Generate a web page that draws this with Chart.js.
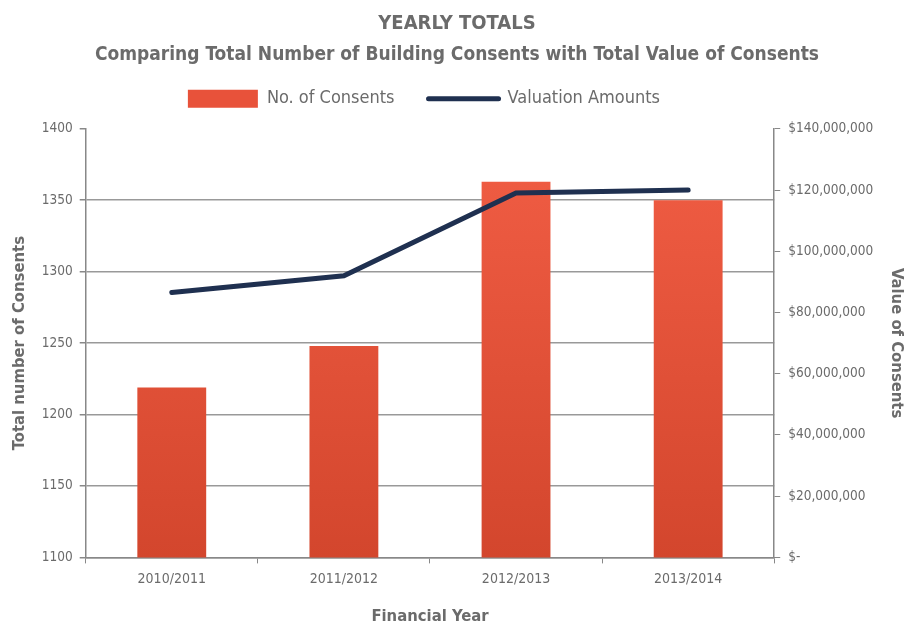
<!DOCTYPE html>
<html>
<head>
<meta charset="utf-8">
<script src="https://cdn.jsdelivr.net/npm/chart.js@4.4.0/dist/chart.umd.min.js"></script>
<style>
html,body{margin:0;padding:0;background:#fff;}
#wrap{width:906px;height:625px;position:relative;}
</style>
</head>
<body>
<div id="wrap"><canvas id="c"></canvas></div>
<script>
const categories = ['2010/2011', '2011/2012', '2012/2013', '2013/2014'];
const consents = [1219, 1248, 1363, 1350];
const valuations = [86500000, 92000000, 119000000, 120000000];
const titleText = 'YEARLY TOTALS';
const subtitleText = 'Comparing Total Number of Building Consents with Total Value of Consents';

const FONT = '"DejaVu Sans Condensed", "Liberation Sans Narrow", sans-serif';
const GREY = '#6b6b6b';

function barGradient(context) {
  const chart = context.chart;
  const area = chart.chartArea;
  if (!area) return '#E8523A';
  const g = chart.ctx.createLinearGradient(0, area.top, 0, area.bottom);
  g.addColorStop(0, '#F25E45');
  g.addColorStop(1, '#D3462D');
  return g;
}

function money(v) {
  if (v === 0) return '$-';
  return '$' + v.toLocaleString('en-US');
}

// nudge the legend block slightly (layout offset only)
const legendNudge = {
  id: 'legendNudge',
  afterLayout(chart) {
    const lg = chart.legend;
    if (!lg) return;
    lg.left -= 6; lg.right -= 6;
    lg.top -= 11; lg.bottom -= 11;
  }
};

new Chart(document.getElementById('c'), {
  data: {
    labels: categories,
    datasets: [
      {
        type: 'line',
        label: 'Valuation Amounts',
        data: valuations,
        yAxisID: 'y1',
        borderColor: '#1F3050',
        backgroundColor: '#1F3050',
        borderWidth: 5,
        pointRadius: 0,
        pointHoverRadius: 0,
        borderCapStyle: 'round',
        borderJoinStyle: 'miter',
        tension: 0,
        order: 0
      },
      {
        type: 'bar',
        label: 'No. of Consents',
        data: consents,
        yAxisID: 'y',
        backgroundColor: barGradient,
        categoryPercentage: 1,
        barPercentage: 0.4,
        order: 1
      }
    ]
  },
  plugins: [legendNudge],
  options: {
    responsive: true,
    maintainAspectRatio: false,
    animation: false,
    layout: { padding: { left: 8, right: 0, top: 8, bottom: 0 } },
    plugins: {
      tooltip: { enabled: false },
      title: {
        display: true,
        text: titleText,
        color: GREY,
        font: { family: FONT, size: 20, weight: 'bold', lineHeight: 1.2 },
        padding: { top: 4, bottom: 4 }
      },
      subtitle: {
        display: true,
        text: subtitleText,
        color: GREY,
        font: { family: FONT, size: 19, weight: 'bold', lineHeight: 1.2 },
        padding: { top: 4, bottom: 0 }
      },
      legend: {
        display: true,
        fullSize: false,
        labels: {
          color: GREY,
          font: { family: FONT, size: 18 },
          usePointStyle: true,
          pointStyleWidth: 70,
          boxHeight: 18,
          padding: 34,
          generateLabels: () => [
            { text: 'No. of Consents', fillStyle: '#E8523A', strokeStyle: '#E8523A', lineWidth: 0, pointStyle: 'rect', datasetIndex: 1, fontColor: GREY },
            { text: 'Valuation Amounts', fillStyle: '#1F3050', strokeStyle: '#1F3050', lineWidth: 5, lineCap: 'round', pointStyle: 'line', datasetIndex: 0, fontColor: GREY }
          ]
        }
      }
    },
    scales: {
      x: {
        offset: true,
        grid: { offset: true, drawOnChartArea: false, color: '#888', tickLength: 6, lineWidth: 1 },
        border: { color: '#888', width: 1.5 },
        ticks: { color: GREY, font: { family: FONT, size: 14 }, padding: 8 },
        title: { display: true, text: 'Financial Year', color: GREY, font: { family: FONT, size: 16.5, weight: 'bold' }, padding: { top: 11, bottom: -2 } }
      },
      y: {
        position: 'left',
        min: 1100,
        max: 1400,
        ticks: { stepSize: 50, color: GREY, font: { family: FONT, size: 13.5 }, padding: 7, callback: (v) => String(v) },
        grid: {
          color: (ctx) => (ctx.tick && ctx.tick.value === 1400) ? 'rgba(0,0,0,0)' : '#999',
          tickColor: '#888',
          lineWidth: 1.5,
          tickLength: 6
        },
        border: { color: '#888', width: 1.5 },
        title: { display: true, text: 'Total number of Consents', color: GREY, font: { family: FONT, size: 16.5, weight: 'bold' }, padding: { top: 2, bottom: 5 } }
      },
      y1: {
        position: 'right',
        min: 0,
        max: 140000000,
        ticks: { stepSize: 20000000, color: GREY, font: { family: FONT, size: 13.5 }, padding: 8, callback: (v) => money(v) },
        grid: { drawOnChartArea: false, color: '#888', tickLength: 6 },
        border: { color: '#888', width: 1.5 },
        title: { display: true, text: 'Value of Consents', color: GREY, font: { family: FONT, size: 16.5, weight: 'bold' }, padding: { top: 0, bottom: 5 } }
      }
    }
  }
});
</script>
</body>
</html>
